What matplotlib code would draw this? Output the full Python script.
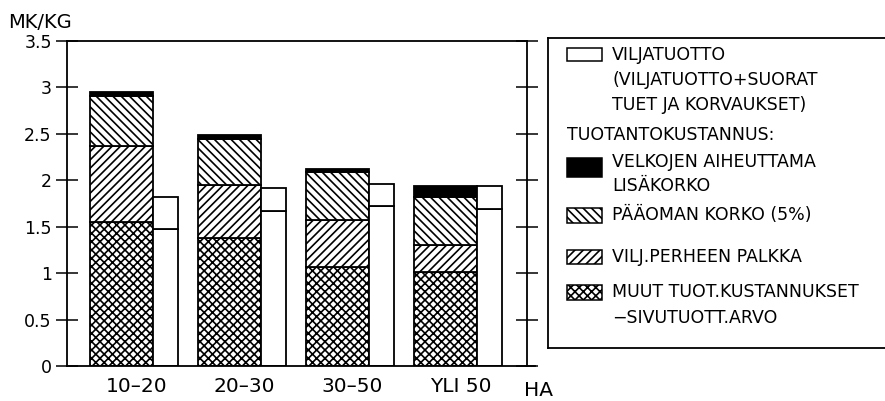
#!/usr/bin/env python3
"""Viljan tuotantokustannus vs. viljatuotto tilakokoluokittain."""

import matplotlib
matplotlib.use("Agg")
import matplotlib.patches as mpatches
import matplotlib.pyplot as plt
import numpy as np

plt.rcParams["font.family"] = ["DejaVu Sans"]
plt.rcParams["hatch.linewidth"] = 1.2

CATEGORIES = ["10–20", "20–30", "30–50", "YLI 50"]

# tuotantokustannus, mk/kg (pinottuna alhaalta ylös)
MUUT_KUST = [1.55, 1.38, 1.07, 1.01]
PERHEEN_PALKKA = [0.82, 0.57, 0.50, 0.29]
PAAOMAN_KORKO = [0.54, 0.49, 0.52, 0.52]
LISAKORKO = [0.04, 0.05, 0.035, 0.12]

# viljatuotto, mk/kg
VILJATUOTTO = [1.48, 1.67, 1.72, 1.69]
VILJATUOTTO_TUET = [1.82, 1.92, 1.965, 1.94]

W, H = 885, 401
FS = 12.5
LW = 1.3

CROSS = "xxxx"
DIAG = "////"
BACK = "\\\\\\\\"

fig = plt.figure(figsize=(W / 100, H / 100), dpi=100)
ax = fig.add_axes([67 / W, 1 - 366 / H, (527 - 67) / W, (366 - 41) / H])

x = np.arange(len(CATEGORIES))
cost_w = 0.59
rev_w = 0.225
rev_x = x + cost_w / 2 + rev_w / 2

bottom = np.zeros(len(x))
layers = [
    (MUUT_KUST, "white", CROSS),
    (PERHEEN_PALKKA, "white", DIAG),
    (PAAOMAN_KORKO, "white", BACK),
    (LISAKORKO, "black", None),
]
for vals, fc, hatch in layers:
    ax.bar(x, vals, cost_w, bottom=bottom, facecolor=fc, edgecolor="black",
           linewidth=LW, hatch=hatch, zorder=2)
    bottom += np.array(vals)

tuet = np.array(VILJATUOTTO_TUET) - np.array(VILJATUOTTO)
ax.bar(rev_x, VILJATUOTTO, rev_w, facecolor="white", edgecolor="black",
       linewidth=LW, zorder=2)
ax.bar(rev_x, tuet, rev_w, bottom=VILJATUOTTO, facecolor="white",
       edgecolor="black", linewidth=LW, zorder=2)

ax.set_xlim(-0.505, 3.755)
ax.set_ylim(0, 3.5)
ax.set_yticks(np.arange(0, 3.51, 0.5))
ax.set_yticklabels(["0", "0.5", "1", "1.5", "2", "2.5", "3", "3.5"], fontsize=FS)
ax.tick_params(axis="y", direction="inout", length=16, width=1.1, right=True,
               labelright=False, pad=3)
ax.set_xticks(x + 0.14)
ax.set_xticklabels(CATEGORIES, fontsize=14.5)
ax.tick_params(axis="x", length=0, pad=8)
ax.text(3.86, -0.075, "HA", transform=ax.get_xaxis_transform(), fontsize=14.5,
        ha="center", va="center")
for sp in ax.spines.values():
    sp.set_linewidth(LW)
ax.plot([3.755, 3.83], [0, 0], color="black", linewidth=LW, clip_on=False)

fig.text(8 / W, 1 - 22 / H, "MK/KG", fontsize=14, va="center", ha="left")

# Selite
lax = fig.add_axes([548 / W, 1 - 348 / H, 360 / W, (348 - 38) / H])
lax.set_xlim(548, 908)
lax.set_ylim(348, 38)
lax.set_xticks([])
lax.set_yticks([])
for sp in lax.spines.values():
    sp.set_linewidth(LW)

sw_x, sw_w = 567, 35
tx = 612
swatches = [
    (48, 13, "white", None),
    (158, 19, "black", None),
    (208, 15, "white", BACK),
    (250, 14, "white", DIAG),
    (285, 15, "white", CROSS),
]
for y0, h, fc, hatch in swatches:
    lax.add_patch(mpatches.Rectangle((sw_x, y0), sw_w, h, facecolor=fc,
                                     edgecolor="black", linewidth=1.1, hatch=hatch))

texts = [
    (tx, 55, "VILJATUOTTO"),
    (tx, 80, "(VILJATUOTTO+SUORAT"),
    (tx, 105, "TUET JA KORVAUKSET)"),
    (sw_x, 135, "TUOTANTOKUSTANNUS:"),
    (tx, 162, "VELKOJEN AIHEUTTAMA"),
    (tx, 186, "LISÄKORKO"),
    (tx, 215, "PÄÄOMAN KORKO (5%)"),
    (tx, 257, "VILJ.PERHEEN PALKKA"),
    (tx, 292, "MUUT TUOT.KUSTANNUKSET"),
    (tx, 318, "−SIVUTUOTT.ARVO"),
]
for tx_, ty, s in texts:
    lax.text(tx_, ty, s, fontsize=FS, va="center", ha="left")

fig.savefig("out.png", dpi=100)
